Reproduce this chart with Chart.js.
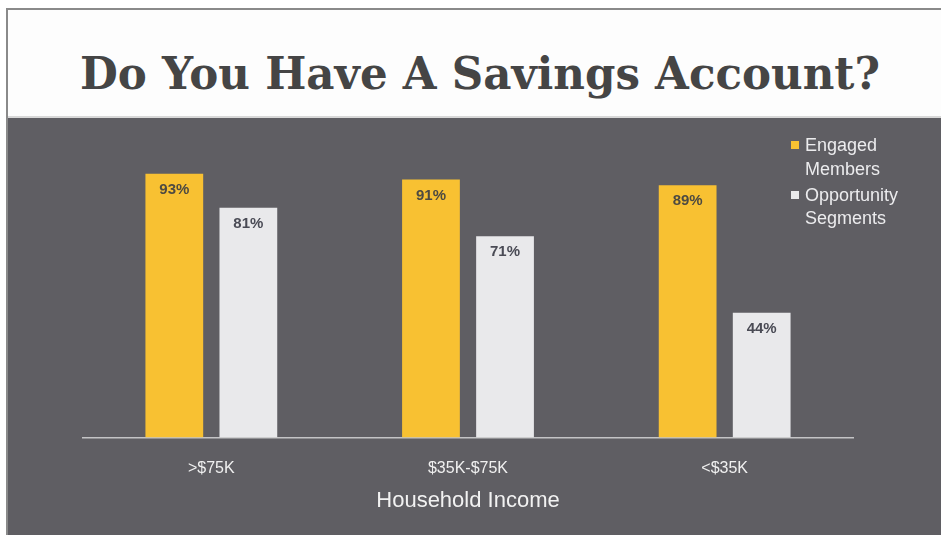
<!DOCTYPE html>
<html>
<head>
<meta charset="utf-8">
<script src="https://cdn.jsdelivr.net/npm/chart.js@4/dist/chart.umd.min.js"></script>
<style>
  body { margin: 0; background: #fff; width: 941px; height: 535px; overflow: hidden; position: relative; }
  #frame { position: absolute; left: 6px; top: 8px; right: 0; bottom: 0; border-left: 2px solid #8a8a8a; border-top: 2px solid #8a8a8a; }
  #header { position: absolute; left: 8px; top: 10px; width: 933px; height: 106px; background: #fdfdfd; border-bottom: 2px solid #d8d8d8; }
  #title { position: absolute; left: 80px; top: 51px; margin: 0; font: bold 45px "DejaVu Serif", serif; line-height: 45px; color: #454545; white-space: nowrap; transform-origin: 0 0; }
  #panel { position: absolute; left: 8px; top: 118px; width: 933px; height: 417px; background: #5f5e63; }
</style>
</head>
<body>
<div id="frame"></div>
<div id="header"></div>
<h1 id="title">Do You Have A Savings Account?</h1>
<div id="panel"><canvas id="savingsChart" width="933" height="417"></canvas></div>
<script>
const categories = ['>$75K', '$35K-$75K', '<$35K']
const engaged = [93, 91, 89]
const opportunity = [81, 71, 44]
const legendLines = [['Engaged', 'Members'], ['Opportunity', 'Segments']]

// squeeze title to the width it has in the picture
const title = document.getElementById('title')
title.style.transform = 'scaleX(' + (800 / title.getBoundingClientRect().width) + ')'

const barLabels = {
  id: 'barLabels',
  afterDatasetsDraw(chart) {
    const ctx = chart.ctx
    ctx.save()
    ctx.font = 'bold 15px "Liberation Sans", Arial, sans-serif'
    ctx.textAlign = 'center'
    ctx.textBaseline = 'middle'
    chart.data.datasets.forEach((ds, i) => {
      chart.getDatasetMeta(i).data.forEach((bar, j) => {
        ctx.fillStyle = i == 0 ? '#4d4a42' : '#4a4b55'
        ctx.fillText(ds.data[j] + '%', bar.x, bar.y + 16)
      })
    })
    ctx.restore()
  }
}

const sideLegend = {
  id: 'sideLegend',
  afterDraw(chart) {
    const ctx = chart.ctx
    ctx.save()
    ctx.font = '18px "Liberation Sans", Arial, sans-serif'
    ctx.textBaseline = 'middle'
    const rows = [[28, 52], [78, 101]]
    chart.data.datasets.forEach((ds, i) => {
      ctx.fillStyle = ds.backgroundColor
      ctx.fillRect(783, rows[i][0] - 5, 8, 8)
      ctx.fillStyle = '#ececee'
      legendLines[i].forEach((t, k) => ctx.fillText(t, 797, rows[i][k]))
    })
    ctx.restore()
  }
}

new Chart(document.getElementById('savingsChart'), {
  type: 'bar',
  data: {
    labels: categories,
    datasets: [{
      label: 'Engaged Members',
      data: engaged,
      backgroundColor: '#f8c132'
    }, {
      label: 'Opportunity Segments',
      data: opportunity,
      backgroundColor: '#e9e9eb'
    }]
  },
  options: {
    responsive: false,
    animation: false,
    categoryPercentage: 0.577,
    barPercentage: 0.78,
    layout: { padding: { left: 75, right: 88, top: 36, bottom: 21 } },
    plugins: {
      legend: { display: false },
      tooltip: { enabled: false }
    },
    scales: {
      y: { display: false, min: 0, max: 100 },
      x: {
        grid: { display: false, drawTicks: false },
        border: { display: true, color: '#c4c4c6', width: 1.5 },
        ticks: { color: '#f0f0f0', padding: 22, font: { size: 16, family: '"Liberation Sans", Arial, sans-serif' } },
        title: {
          display: true,
          text: 'Household Income',
          color: '#f2f2f2',
          padding: { top: -13, bottom: 0 },
          font: { size: 22, family: '"Liberation Sans", Arial, sans-serif' }
        }
      }
    }
  },
  plugins: [barLabels, sideLegend]
})
</script>
</body>
</html>
